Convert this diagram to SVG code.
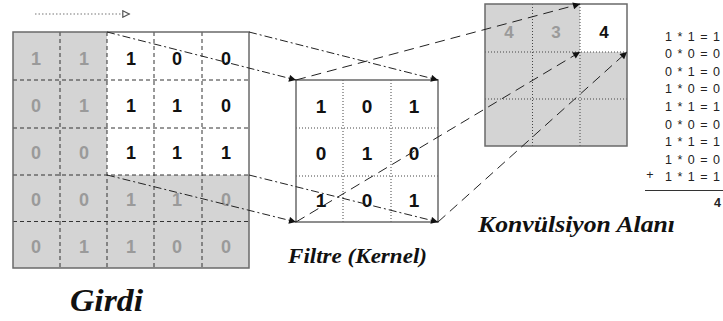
<svg xmlns="http://www.w3.org/2000/svg" width="723" height="321" viewBox="0 0 723 321">
<defs>
<marker id="ah" viewBox="0 0 10 10" refX="10" refY="5" markerWidth="10" markerHeight="7" markerUnits="userSpaceOnUse" orient="auto">
<path d="M0,0 L10,5 L0,10 Z" fill="#111"/>
</marker>
<marker id="oh" viewBox="0 0 10 10" refX="10" refY="5" markerWidth="9" markerHeight="8" markerUnits="userSpaceOnUse" orient="auto">
<path d="M1,1 L9,5 L1,9 Z" fill="#fff" stroke="#555" stroke-width="1.5"/>
</marker>
</defs>
<style>
.sh{fill:#d4d4d4}
.wh{fill:#fff}
.bd{fill:none;stroke:#6a6a6a;stroke-width:1.5}
.dl{stroke:#333;stroke-width:1;stroke-dasharray:4 3}
.fd{stroke:#444;stroke-width:1;stroke-dasharray:1 2}
.d{font-family:"Liberation Sans",Arial,sans-serif;font-size:18px;font-weight:bold;text-anchor:middle}
.fk{font-size:19px}
.ok{font-size:17px}
.b{fill:#111}
.g{fill:#9a9a9a}
.eq{font-family:"Liberation Sans",Arial,sans-serif;font-size:12.5px;word-spacing:2px;fill:#222;text-anchor:end}
.ti{font-family:"Liberation Serif","Times New Roman",serif;font-weight:bold;font-style:italic;fill:#111}
.dd{fill:none;stroke:#222;stroke-width:1;stroke-dasharray:8 3 2 3}
.ld{fill:none;stroke:#222;stroke-width:1;stroke-dasharray:10 6}
</style>
<line x1="35" y1="14" x2="130" y2="14" stroke="#777" stroke-width="1.2" stroke-dasharray="1.5 2" marker-end="url(#oh)"/>
<g id="input">
<rect class="sh" x="13" y="32" width="236" height="236"/>
<rect class="wh" x="107" y="32" width="142" height="143"/>
<line class="dl" x1="13" y1="80" x2="249" y2="80"/>
<line class="dl" x1="13" y1="128" x2="249" y2="128"/>
<line class="dl" x1="13" y1="175" x2="249" y2="175"/>
<line class="dl" x1="13" y1="221.5" x2="249" y2="221.5"/>
<line class="dl" x1="60" y1="32" x2="60" y2="268"/>
<line class="dl" x1="107" y1="32" x2="107" y2="268"/>
<line class="dl" x1="154" y1="32" x2="154" y2="268"/>
<line class="dl" x1="202" y1="32" x2="202" y2="268"/>
<rect class="bd" x="13" y="32" width="236" height="236"/>
<g class="d">
<text class="g" x="36" y="65">1</text><text class="g" x="84" y="65">1</text><text class="b" x="131" y="65">1</text><text class="b" x="177" y="65">0</text><text class="b" x="226" y="65">0</text>
<text class="g" x="36" y="112">0</text><text class="g" x="84" y="112">1</text><text class="b" x="131" y="112">1</text><text class="b" x="177" y="112">1</text><text class="b" x="226" y="112">0</text>
<text class="g" x="36" y="159">0</text><text class="g" x="84" y="159">0</text><text class="b" x="131" y="159">1</text><text class="b" x="177" y="159">1</text><text class="b" x="226" y="159">1</text>
<text class="g" x="36" y="206">0</text><text class="g" x="84" y="206">0</text><text class="g" x="131" y="206">1</text><text class="g" x="177" y="206">1</text><text class="g" x="226" y="206">0</text>
<text class="g" x="36" y="253">0</text><text class="g" x="84" y="253">1</text><text class="g" x="131" y="253">1</text><text class="g" x="177" y="253">0</text><text class="g" x="226" y="253">0</text>
</g>
</g>
<g id="filter">
<rect class="wh" x="296" y="80" width="142" height="142"/>
<line class="fd" x1="296" y1="128" x2="438" y2="128"/>
<line class="fd" x1="296" y1="176" x2="438" y2="176"/>
<line class="fd" x1="343" y1="80" x2="343" y2="222"/>
<line class="fd" x1="391" y1="80" x2="391" y2="222"/>
<rect class="bd" x="296" y="80" width="142" height="142"/>
<g class="d fk b">
<text x="321" y="113">1</text><text x="367" y="113">0</text><text x="414" y="113">1</text>
<text x="321" y="160">0</text><text x="367" y="160">1</text><text x="414" y="160">0</text>
<text x="321" y="207">1</text><text x="367" y="207">0</text><text x="414" y="207">1</text>
</g>
</g>
<g id="output">
<rect class="sh" x="485" y="4" width="142" height="142"/>
<rect class="wh" x="580" y="4" width="47" height="48"/>
<line class="fd" x1="485" y1="52" x2="627" y2="52"/>
<line class="fd" x1="485" y1="99" x2="627" y2="99"/>
<line class="fd" x1="532.5" y1="4" x2="532.5" y2="146"/>
<line class="fd" x1="580" y1="4" x2="580" y2="146"/>
<rect class="bd" x="485" y="4" width="142" height="142"/>
<g class="d ok">
<text class="g" x="509" y="38">4</text><text class="g" x="556" y="38">3</text><text class="b" x="604" y="38">4</text>
</g>
</g>
<g id="connectors">
<line class="dd" x1="107" y1="32" x2="296" y2="80" marker-end="url(#ah)"/>
<line class="dd" x1="249" y1="32" x2="438" y2="80" marker-end="url(#ah)"/>
<line class="dd" x1="107" y1="175" x2="296" y2="222" marker-end="url(#ah)"/>
<line class="dd" x1="249" y1="175" x2="438" y2="222" marker-end="url(#ah)"/>
<line class="ld" x1="296" y1="80" x2="580" y2="4" marker-end="url(#ah)"/>
<line class="ld" x1="296" y1="222" x2="580" y2="52" marker-end="url(#ah)"/>
<line class="ld" x1="438" y1="222" x2="627" y2="52" marker-end="url(#ah)"/>
</g>
<g id="equations">
<text class="eq" x="720" y="40.5">1 * 1 = 1</text>
<text class="eq" x="720" y="58">0 * 0 = 0</text>
<text class="eq" x="720" y="75.5">0 * 1 = 0</text>
<text class="eq" x="720" y="93">1 * 0 = 0</text>
<text class="eq" x="720" y="110.5">1 * 1 = 1</text>
<text class="eq" x="720" y="128.5">0 * 0 = 0</text>
<text class="eq" x="720" y="146">1 * 1 = 1</text>
<text class="eq" x="720" y="163.5">1 * 0 = 0</text>
<text class="eq" x="720" y="181">1 * 1 = 1</text>
<text class="eq" x="650" y="179" style="text-anchor:middle">+</text>
<line x1="645" y1="190.5" x2="723" y2="190.5" stroke="#333" stroke-width="1.2"/>
<text class="eq" x="721" y="207" style="font-weight:bold">4</text>
</g>
<text class="ti" x="288" y="263" font-size="22" textLength="139" lengthAdjust="spacingAndGlyphs">Filtre (Kernel)</text>
<text class="ti" x="478" y="232" font-size="24" textLength="197" lengthAdjust="spacingAndGlyphs">Konvülsiyon Alanı</text>
<text class="ti" x="70" y="311" font-size="32" textLength="73" lengthAdjust="spacingAndGlyphs">Girdi</text>
</svg>
